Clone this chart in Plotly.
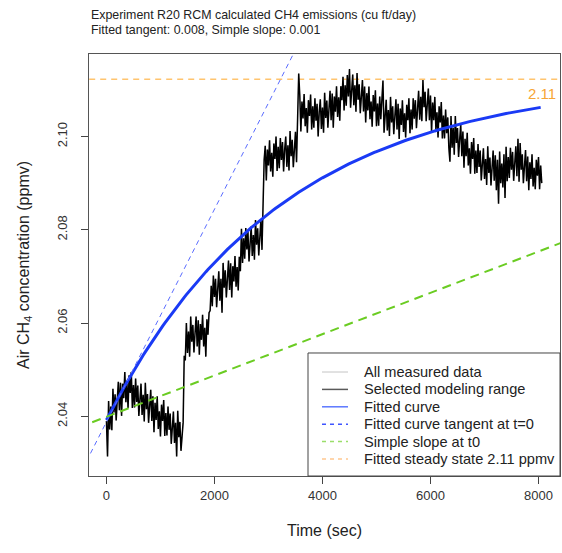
import math
import plotly.graph_objects as go

# ---- data (CH4 in units of 1e-4 ppmv, sampled every 20 s) ----
time_step_sec = 20
ch4_selected_e4 = [
    20390, 20314, 20433, 20372, 20421, 20370, 20459, 20408, 20447, 20391,
    20435, 20474, 20413, 20472, 20401, 20470, 20439, 20495, 20430, 20470,
    20418, 20488, 20450, 20495, 20418, 20467, 20419, 20481, 20431, 20466,
    20401, 20445, 20470, 20403, 20446, 20389, 20472, 20415, 20448, 20386,
    20424, 20457, 20390, 20443, 20366, 20429, 20392, 20443, 20373, 20411,
    20357, 20425, 20390, 20435, 20358, 20407, 20359, 20421, 20371, 20406,
    20341, 20385, 20410, 20343, 20386, 20314, 20412, 20355, 20388, 20326,
    20364, 20387, 20530, 20520, 20600, 20536, 20582, 20528, 20614, 20560,
    20596, 20537, 20578, 20614, 20550, 20606, 20532, 20598, 20564, 20618,
    20550, 20590, 20528, 20608, 20575, 20622, 20627, 20680, 20636, 20702,
    20656, 20695, 20634, 20682, 20711, 20648, 20695, 20622, 20729, 20676,
    20713, 20655, 20697, 20734, 20671, 20728, 20655, 20722, 20689, 20744,
    20678, 20720, 20670, 20742, 20711, 20802, 20729, 20782, 20738, 20804,
    20758, 20795, 20732, 20780, 20807, 20744, 20789, 20736, 20821, 20768,
    20803, 20745, 20785, 20822, 20757, 20900, 20950, 20980, 20906, 20972,
    20938, 20992, 20925, 20965, 20914, 20985, 20952, 21000, 20926, 20978,
    20932, 20997, 20950, 20988, 20925, 20972, 21000, 20935, 20981, 20927,
    21012, 20958, 20993, 20934, 20974, 21010, 20945, 21020, 21135, 21088,
    21011, 21075, 21039, 21091, 21022, 21061, 21008, 21078, 21044, 21090,
    21015, 21065, 21019, 21082, 21034, 21070, 21000, 21053, 21080, 21016,
    21062, 21008, 21094, 21040, 21077, 21019, 21061, 21098, 21035, 21092,
    21019, 21086, 21053, 21108, 21042, 21084, 21034, 21108, 21078, 21128,
    21056, 21110, 21066, 21132, 21086, 21145, 21062, 21107, 21133, 21067,
    21110, 21053, 21136, 21079, 21112, 21050, 21088, 21121, 21054, 21107,
    21030, 21093, 21056, 21107, 21037, 21075, 21021, 21089, 21054, 21099,
    21022, 21071, 21023, 21086, 21037, 21073, 21120, 21008, 21053, 21079,
    21013, 21057, 21001, 21085, 21030, 21065, 21005, 21045, 21080, 21015,
    21070, 20995, 21060, 21025, 21078, 21010, 21050, 20998, 21068, 21035,
    21082, 21007, 21058, 21015, 21082, 21038, 21078, 21018, 21068, 21098,
    21036, 21085, 21033, 21121, 21063, 21096, 21033, 21071, 21103, 21035,
    21088, 21010, 21073, 21035, 21085, 21015, 21052, 20998, 21065, 21030,
    21074, 20996, 21045, 20996, 21058, 21007, 21041, 20976, 20946, 21044,
    20976, 21019, 20961, 21044, 20986, 21018, 20956, 20993, 21026, 20958,
    21011, 20933, 20995, 20958, 21008, 20938, 20975, 20920, 20988, 20952,
    20997, 20920, 20970, 20922, 20984, 20935, 20970, 20906, 20950, 20975,
    20909, 20952, 20896, 20979, 20922, 20955, 20895, 20935, 20970, 20905,
    20960, 20885, 20950, 20856, 20968, 20900, 20942, 20891, 20962, 20868,
    20978, 20904, 20956, 20911, 20976, 20929, 20967, 20905, 20952, 20979,
    20915, 20995, 20903, 20986, 20929, 20962, 20900, 20938, 20971, 20904,
    20957, 20885, 20945, 20909, 20962, 20893, 20933, 20887, 20950, 20916,
    20956, 20887, 20938, 20900,
]
ch4_selected = [v / 10000 for v in ch4_selected_e4]
time_sec = [i * time_step_sec for i in range(len(ch4_selected))]

# fitted model parameters
steady_state = 2.1123
fit_y0 = 2.0392
fit_k = 3.1e-4
tangent_intercept = 2.0388
tangent_slope = 2.28e-5
simple_intercept = 2.0399
simple_slope = 4.43e-6

x_ticks = [0, 2000, 4000, 6000, 8000]
y_ticks = [2.04, 2.06, 2.08, 2.10]

x_range = [-323, 8398]
y_range = [2.0272, 2.1177]

legend_labels = [
    "All measured data",
    "Selected modeling range",
    "Fitted curve",
    "Fitted curve tangent at t=0",
    "Simple slope at t0",
    "Fitted steady state 2.11 ppmv",
]

fit_t = list(range(0, time_sec[-1] + 1, 40))
fit_y = [steady_state - (steady_state - fit_y0) * math.exp(-fit_k * t) for t in fit_t]
line_t = [x_range[0] - 200, x_range[1] + 200]

FONT = "Liberation Sans, Arial, sans-serif"

fig = go.Figure()
fig.add_trace(go.Scatter(x=line_t, y=[steady_state, steady_state],
                         mode="lines", name=legend_labels[5],
                         line=dict(color="#ffc46e", width=1.5, dash="6px,5px")))
fig.add_trace(go.Scatter(x=time_sec, y=ch4_selected, mode="lines", name=legend_labels[0],
                         line=dict(color="#d9d9d9", width=1), hoverinfo="skip"))
fig.add_trace(go.Scatter(x=time_sec, y=ch4_selected, mode="lines", name=legend_labels[1],
                         line=dict(color="black", width=1.5)))
fig.add_trace(go.Scatter(x=fit_t, y=fit_y, mode="lines", name=legend_labels[2],
                         line=dict(color="#1a3af5", width=3)))
fig.add_trace(go.Scatter(x=line_t, y=[tangent_intercept + tangent_slope * t for t in line_t],
                         mode="lines", name=legend_labels[3],
                         line=dict(color="#5a6cff", width=1, dash="5px,4px")))
fig.add_trace(go.Scatter(x=line_t, y=[simple_intercept + simple_slope * t for t in line_t],
                         mode="lines", name=legend_labels[4],
                         line=dict(color="#6acc22", width=2, dash="9px,6px")))

# ---- legend box (R-style), drawn in paper coordinates ----
legend_styles = [
    ("#d8d8d8", "solid"),
    ("#5a5a5a", "solid"),
    ("#5c78ff", "solid"),
    ("#3f55ff", "4px,4px"),
    ("#9ade6a", "4px,4px"),
    ("#ffc890", "4px,4px"),
]
shapes = [dict(type="rect", xref="paper", yref="paper", x0=0.465, x1=1.0, y0=0.0, y1=0.2915,
               line=dict(color="#444", width=1), fillcolor="white", layer="above")]
annotations = []
row_y0 = 0.2464
row_dy = 0.0412
for i, (label, (color, dash)) in enumerate(zip(legend_labels, legend_styles)):
    yy = row_y0 - i * row_dy
    shapes.append(dict(type="line", xref="paper", yref="paper", x0=0.4947, x1=0.5499, y0=yy, y1=yy,
                       line=dict(color=color, width=1.5, dash=dash), layer="above"))
    annotations.append(dict(text=label, xref="paper", yref="paper", x=0.5796, y=yy,
                            xanchor="left", yanchor="middle", showarrow=False,
                            font=dict(size=14.6, color="#222")))

annotations += [
    dict(text="Experiment R20 RCM calculated CH4 emissions (cu ft/day)", xref="paper", yref="paper",
         x=0, y=1.0924, xanchor="left", yanchor="middle", showarrow=False,
         font=dict(size=12.4, color="#222")),
    dict(text="Fitted tangent: 0.008, Simple slope: 0.001", xref="paper", yref="paper",
         x=0, y=1.058, xanchor="left", yanchor="middle", showarrow=False,
         font=dict(size=12.4, color="#222")),
    dict(text="2.11", xref="paper", yref="y", x=0.995, y=2.1093, xanchor="right",
         yanchor="middle", showarrow=False, font=dict(size=15, color="#f7a535")),
]

fig.update_layout(
    width=562, height=553,
    margin=dict(l=89, r=2, t=54, b=77),
    paper_bgcolor="white", plot_bgcolor="white",
    font=dict(family=FONT, color="#222", size=13),
    showlegend=False,
    xaxis=dict(range=x_range, tickvals=x_ticks, ticktext=[str(v) for v in x_ticks],
               ticks="outside", ticklen=7, tickcolor="#444", showgrid=False, zeroline=False,
               showline=True, mirror=True, linecolor="#555", linewidth=1,
               tickfont=dict(size=13, color="#333"),
               title=dict(text="Time (sec)", font=dict(size=16, color="#222"), standoff=23)),
    yaxis=dict(range=y_range, tickvals=y_ticks, ticktext=[f"{v:.2f}" for v in y_ticks],
               ticks="outside", ticklen=7, tickcolor="#444", showgrid=False, zeroline=False,
               showline=True, mirror=True, linecolor="#555", linewidth=1, tickangle=-90,
               ticklabelstandoff=9,
               tickfont=dict(size=13, color="#333"),
               title=dict(text="Air CH<sub>4</sub> concentration (ppmv)",
                          font=dict(size=16, color="#222"), standoff=21)),
    shapes=shapes,
    annotations=annotations,
)

fig.write_html("out.html", config={"displayModeBar": False},
               post_script="document.body.style.margin='0';document.body.style.overflow='hidden';")
